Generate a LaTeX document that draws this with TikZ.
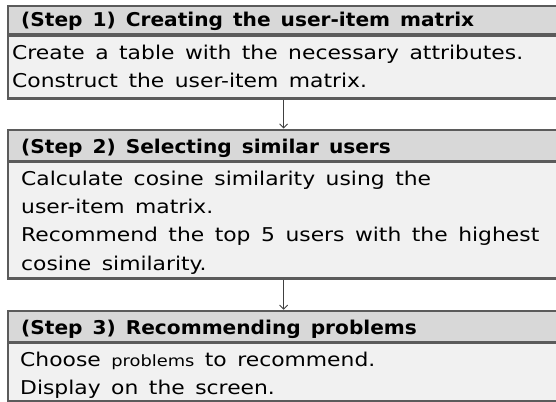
\documentclass[tikz,border=0pt]{standalone}
\usepackage{fontspec}
\setmainfont{DejaVu Sans}
\newfontfamily\bodyface{DejaVu Sans}[FakeStretch=1.15]
\newfontfamily\headface{DejaVu Sans}[FakeStretch=1.06]
\usetikzlibrary{arrows.meta}
\definecolor{edge}{HTML}{5B5B5B}
\definecolor{headfill}{HTML}{D8D8D8}
\definecolor{bodyfill}{HTML}{F1F1F1}
\newcommand\stephead{\headface\bfseries\fontsize{19}{23}\selectfont\spaceskip 10pt\relax}
\newcommand\stepbody{\bodyface\fontsize{19}{23}\selectfont\spaceskip 10.5pt\relax}
\newcommand\smallword{\fontsize{15.5}{20}\selectfont}
\tikzset{
  panel/.style={draw=edge, line width=2.2pt, inner sep=0pt, anchor=north west,
    minimum width=551pt},
  headbox/.style={panel, fill=headfill},
  bodybox/.style={panel, fill=bodyfill},
  headtext/.style={anchor=base west, inner sep=0pt, font=\stephead},
  bodytext/.style={anchor=base west, inner sep=0pt, font=\stepbody},
  flow/.style={draw=edge!70!black, line width=0.9pt,
    -{Straight Barb[length=4pt,width=8pt]}}
}
\begin{document}
\begin{tikzpicture}[x=1pt,y=-1pt]
\useasboundingbox (0,0) rectangle (556,401);
\clip (0,0) rectangle (556,401);
\fill[white] (0,0) rectangle (556,401);

% step 1
\node[headbox, minimum height=28.2pt] (h1) at (7,5.3) {};
\node[bodybox, minimum height=63pt] (b1) at (7,34.5) {};
\node[headtext] (h1t) at (21,27) {(Step 1) Creating the user-item matrix};
\node[bodytext] (b1a) at (12,60) {Create a table with the necessary attributes.};
\node[bodytext] (b1b) at (12,87.5) {Construct the user-item matrix.};

% step 2
\node[headbox, minimum height=31.5pt] (h2) at (7,128.5) {};
\node[bodybox, minimum height=116.3pt] (b2) at (7,161) {};
\node[headtext] (h2t) at (21,153) {(Step 2) Selecting similar users};
\node[bodytext] (b2a) at (21,185) {Calculate cosine similarity using the};
\node[bodytext] (b2b) at (21,213) {user-item matrix.};
\node[bodytext] (b2c) at (21,241.5) {Recommend the top 5 users with the highest};
\node[bodytext] (b2d) at (21,270) {cosine similarity.};

% step 3
\node[headbox, minimum height=31.1pt] (h3) at (7,309.7) {};
\node[bodybox, minimum height=58.5pt] (b3) at (7,341.8) {};
\node[headtext] (h3t) at (21,334) {(Step 3) Recommending problems};
\node[bodytext] (b3a) at (20,366.5) {Choose {\smallword problems} to recommend.};
\node[bodytext] (b3b) at (20,394.5) {Display on the screen.};

% connectors
\draw[flow] (b1.south) -- (h2.north);
\draw[flow] (b2.south) -- (h3.north);
\end{tikzpicture}
\end{document}
